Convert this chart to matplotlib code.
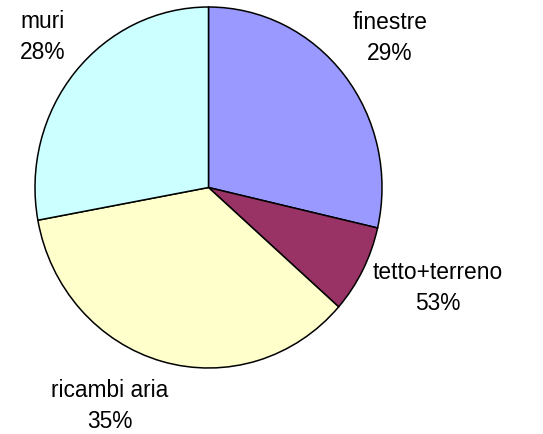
import matplotlib.pyplot as plt

categories = ['finestre', 'tetto+terreno', 'ricambi aria', 'muri']
values = [28.6, 7.9, 35.6, 27.9]
pct_labels = ['29%', '53%', '35%', '28%']
colors = ['#9999FF', '#993366', '#FFFFCC', '#CCFFFF']

# label centres in pixels (x, y from top)
label_pos = [(390, 38), (438, 288), (110, 406), (43, 37)]

W, H = 543, 434
fig = plt.figure(figsize=(W / 100, H / 100), dpi=100)
ax = fig.add_axes([35 / W, (H - 368) / H, 347 / W, 361 / H])

ax.pie(values, colors=colors, startangle=90, counterclock=False,
       wedgeprops=dict(edgecolor='black', linewidth=1.1))
ax.set_aspect('auto')
ax.set_xlim(-1, 1)
ax.set_ylim(-1, 1)
ax.axis('off')

for cat, pct, (px, py) in zip(categories, pct_labels, label_pos):
    fig.text(px / W, 1 - py / H, cat + '\n' + pct, ha='center', va='center',
             fontsize=16.4, family='Liberation Sans', linespacing=1.4)

fig.savefig('out.png', dpi=100)
